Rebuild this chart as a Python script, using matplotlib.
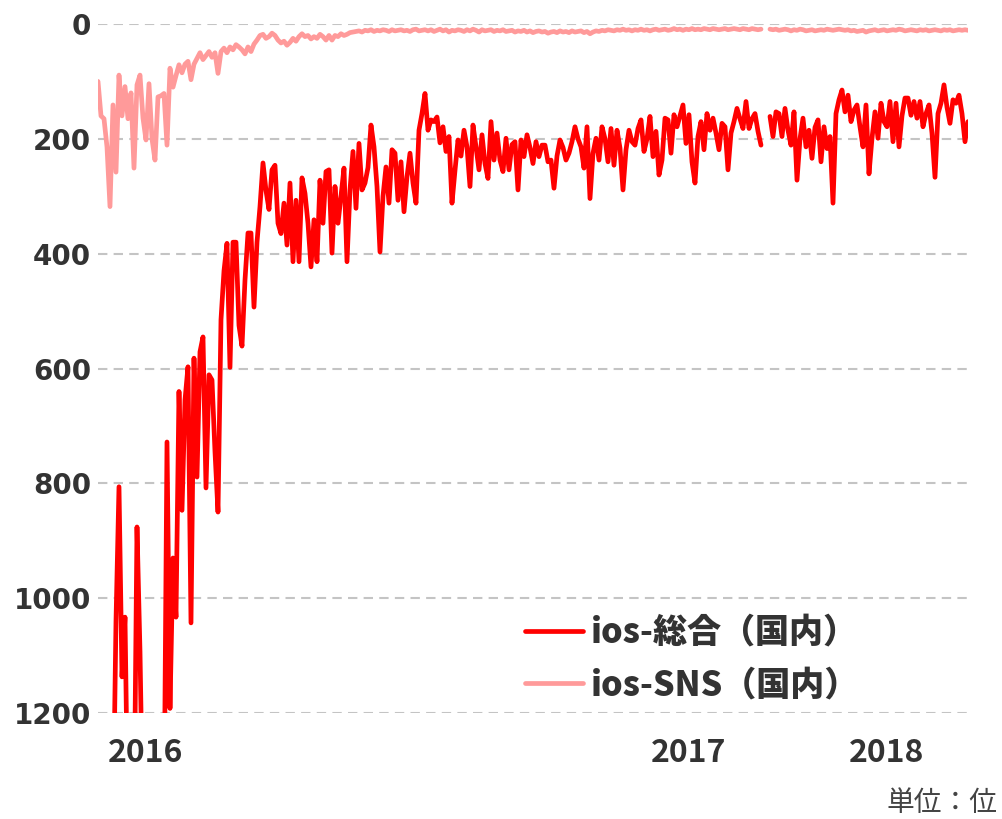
import numpy as np
import matplotlib.pyplot as plt

RED = '#ff0000'
PINK = '#ff9a9a'
TEXT = '#333333'
GRID = '#c4c4c4'

# daily rank (lower is better); nan = missing day, > 1200 = below the chart
sougou = [
    1400, 1400, 1400, 1400, 1400, 1400, 1040, 806, 1137, 1033,
    1400, 1400, 1400, 876, 1093, 1400, 1400, 1400, 1400, 1400,
    1400, 1400, 1400, 728, 1192, 930, 1033, 640, 847, 655,
    597, 1043, 582, 789, 571, 545, 808, 611, 620, 745,
    850, 515, 430, 382, 598, 380, 380, 525, 561, 446,
    364, 364, 493, 380, 318, 242, 290, 323, 254, 246,
    347, 365, 312, 385, 277, 414, 307, 414, 268, 295,
    347, 423, 341, 414, 272, 347, 257, 254, 399, 283,
    347, 300, 251, 414, 289, 222, 321, 208, 289, 277,
    250, 176, 214, 283, 397, 300, 249, 312, 219, 225,
    307, 240, 327, 266, 225, 277, 312, 185, 156, 121,
    185, 167, 170, 162, 207, 179, 222, 196, 312, 255,
    202, 230, 185, 214, 283, 176, 214, 254, 193, 243,
    269, 170, 237, 190, 237, 257, 199, 254, 210, 205,
    289, 202, 231, 193, 215, 243, 205, 231, 211, 211,
    240, 237, 286, 230, 202, 215, 237, 225, 205, 179,
    200, 214, 251, 179, 304, 225, 199, 237, 179, 200,
    240, 182, 246, 185, 216, 289, 219, 185, 205, 211,
    182, 167, 222, 200, 161, 231, 187, 263, 237, 164,
    167, 225, 158, 179, 160, 141, 208, 158, 240, 277,
    196, 170, 219, 156, 185, 164, 190, 219, 173, 179,
    254, 190, 170, 147, 165, 182, 135, 182, 165, 156,
    187, 211, np.nan, np.nan, 161, 196, 153, 156, 196, 147,
    185, 211, 153, 272, 200, 164, 214, 185, 234, 180,
    167, 240, 179, 217, 196, 312, 156, 132, 115, 153,
    124, 170, 150, 141, 179, 214, 141, 261, 199, 153,
    199, 138, 170, 179, 135, 205, 138, 214, 160, 129,
    129, 159, 135, 164, 135, 179, 156, 141, 190, 267,
    156, 138, 106, 145, 173, 132, 138, 124, 156, 205,
    170,
]

sns_rank = [
    100, 160, 165, 214, 318, 141, 258, 89, 160, 109,
    165, 120, 251, 106, 89, 164, 202, 104, 200, 237,
    127, 125, 121, 211, 77, 110, 90, 71, 85, 70,
    65, 97, 70, 60, 50, 62, 55, 48, 58, 50,
    86, 48, 42, 50, 40, 45, 36, 40, 45, 52,
    40, 48, 35, 28, 20, 18, 25, 22, 16, 20,
    28, 33, 30, 37, 32, 25, 30, 22, 17, 22,
    20, 26, 22, 25, 18, 22, 28, 20, 28, 20,
    22, 17, 20, 18, 15, 14, 13, 12, 14, 11,
    12, 10, 13, 11, 12, 10, 11, 13, 10, 12,
    11, 10, 12, 11, 13, 10, 9, 12, 11, 10,
    12, 10, 13, 11, 9, 12, 10, 14, 11, 12,
    10, 11, 13, 10, 12, 9, 11, 14, 10, 12,
    11, 10, 13, 11, 12, 10, 13, 12, 11, 14,
    12, 13, 11, 14, 12, 15, 13, 12, 14, 13,
    16, 14, 13, 15, 12, 14, 13, 15, 12, 14,
    13, 12, 15, 13, 17, 14, 12, 13, 11, 12,
    10, 11, 12, 10, 11, 9, 11, 10, 12, 10,
    11, 9, 11, 10, 12, 10, 9, 11, 10, 9,
    11, 10, 8, 10, 9, 11, 9, 10, 8, 10,
    9, 10, 8, 9, 10, 8, 9, 10, 9, 8,
    10, 9, 8, 9, 10, 8, 9, 10, 8, 9,
    10, 9, np.nan, np.nan, 9, 10, 9, 11, 10, 9,
    10, 12, 10, 11, 9, 10, 12, 11, 10, 12,
    11, 10, 11, 9, 10, 11, 10, 9, 10, 11,
    10, 12, 11, 13, 12, 11, 14, 12, 11, 10,
    12, 11, 10, 12, 11, 10, 11, 9, 10, 12,
    11, 10, 11, 12, 10, 11, 10, 12, 11, 10,
    11, 12, 10, 11, 10, 12, 11, 10, 11, 10,
    11,
]

series_labels = ['ios-総合（国内）', 'ios-SNS（国内）']
year_ticks = [16, 197, 263]
year_labels = ['2016', '2017', '2018']
rank_ticks = [0, 200, 400, 600, 800, 1000, 1200]

assert len(sougou) == len(sns_rank)
days = np.arange(len(sougou))

fig = plt.figure(figsize=(10.03, 8.19), dpi=100)
ax = fig.add_axes([0.0977, 0.1294, 0.8674, 0.8413])

line_kw = dict(linewidth=3.4, solid_joinstyle='round', solid_capstyle='round')
ax.plot(days, sougou, color=RED, label=series_labels[0], zorder=3, **line_kw)
ax.plot(days, sns_rank, color=PINK, label=series_labels[1], zorder=2, **line_kw)

ax.set_xlim(0, len(days) - 1)
ax.set_ylim(1200, 0)

ax.set_yticks(rank_ticks)
ax.set_yticklabels([str(v) for v in rank_ticks], fontfamily='DejaVu Sans',
                   fontweight='heavy', fontsize=20, color=TEXT)
ax.set_xticks(year_ticks)
ax.set_xticklabels(year_labels, fontfamily='Noto Sans CJK JP',
                   fontweight='bold', fontsize=23, color=TEXT)
ax.tick_params(axis='y', length=0, pad=5)
ax.tick_params(axis='x', length=0, pad=17)

ax.yaxis.grid(True, color=GRID, linewidth=1.5, dashes=(4.5, 3))
ax.xaxis.grid(False)
ax.set_axisbelow(True)
for side in ['top', 'right', 'bottom', 'left']:
    ax.spines[side].set_visible(False)

leg = ax.legend(loc='upper left', bbox_to_anchor=(525 / 1003, 1 - 615 / 819),
                bbox_transform=fig.transFigure, frameon=False,
                prop={'family': 'Noto Sans CJK JP', 'weight': 'black', 'size': 24.5},
                handlelength=1.7, handletextpad=0.25, labelspacing=0.5,
                borderpad=0, borderaxespad=0)
for text in leg.get_texts():
    text.set_color(TEXT)

fig.text(998 / 1003, 1 - 803 / 819, '単位：位', fontfamily='Noto Sans CJK JP',
         fontsize=20, color='#444444', ha='right', va='center')

fig.savefig('out.png', dpi=100)
